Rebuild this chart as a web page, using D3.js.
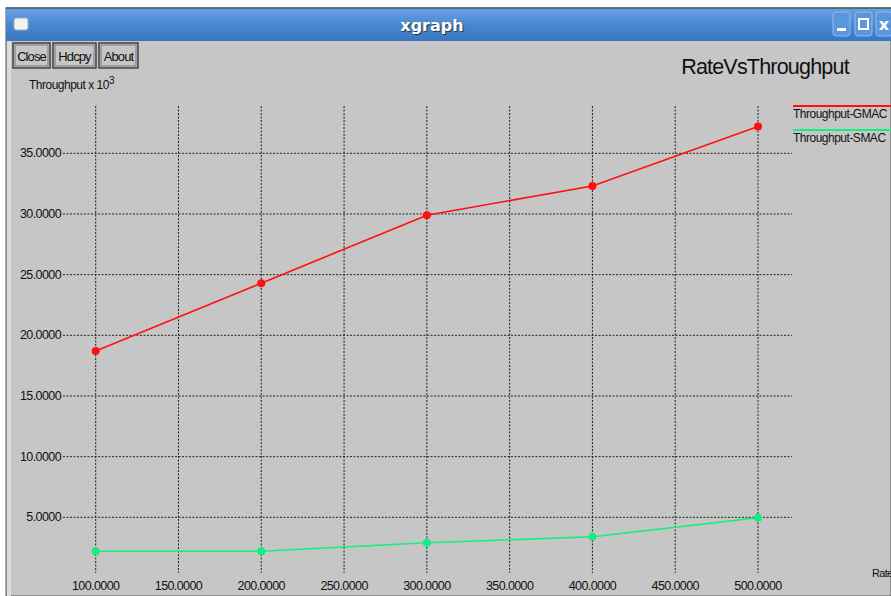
<!DOCTYPE html>
<html>
<head>
<meta charset="utf-8">
<script src="https://cdn.jsdelivr.net/npm/d3@7"></script>
<style>
  body { margin: 0; background: #fff; }
  svg { display: block; font-family: "Liberation Sans", Arial, sans-serif; }
</style>
</head>
<body>
<svg id="chart" width="891" height="596"></svg>
<script>
// Data
const rates = [100, 200, 300, 400, 500];
const gmac = [18.7, 24.3, 29.9, 32.3, 37.2];
const smac = [2.2, 2.2, 2.9, 3.4, 4.96];
const xTicks = [100, 150, 200, 250, 300, 350, 400, 450, 500];
const yTicks = [5, 10, 15, 20, 25, 30, 35];
const seriesNames = ["Throughput-GMAC", "Throughput-SMAC"];
const seriesColors = ["#ff1010", "#10f080"];

const svg = d3.select("#chart");

// window frame
const frame = { left: 6, top: 8, titleH: 33 };
svg.append("rect")
  .attr("x", frame.left).attr("y", frame.top)
  .attr("width", 891 - frame.left).attr("height", 596 - frame.top)
  .attr("fill", "#c6c6c6").attr("stroke", "#555").attr("stroke-width", 1);
svg.append("rect")
  .attr("x", frame.left + 1).attr("y", frame.top + frame.titleH)
  .attr("width", 4).attr("height", 596 - frame.top - frame.titleH)
  .attr("fill", "#dcdcdc");

// title bar gradient
const defs = svg.append("defs");
const grad = defs.append("linearGradient").attr("id", "tb")
  .attr("x1", 0).attr("y1", 0).attr("x2", 0).attr("y2", 1);
grad.append("stop").attr("offset", "0%").attr("stop-color", "#6aa2e0");
grad.append("stop").attr("offset", "50%").attr("stop-color", "#4a88d2");
grad.append("stop").attr("offset", "100%").attr("stop-color", "#3a76c0");
svg.append("rect")
  .attr("x", frame.left).attr("y", frame.top)
  .attr("width", 891 - frame.left).attr("height", frame.titleH)
  .attr("fill", "url(#tb)");
svg.append("line")
  .attr("x1", frame.left).attr("x2", 891)
  .attr("y1", frame.top).attr("y2", frame.top)
  .attr("stroke", "#333");

// window icon
svg.append("rect")
  .attr("x", 14).attr("y", 18).attr("width", 14).attr("height", 12)
  .attr("rx", 2).attr("fill", "#f2f2f2").attr("stroke", "#9ab").attr("stroke-width", 1);

svg.append("text")
  .attr("x", 432).attr("y", 31)
  .attr("text-anchor", "middle")
  .attr("fill", "#fff").attr("font-weight", "bold").attr("font-size", 16)
  .attr("font-family", "DejaVu Sans, sans-serif")
  .style("text-shadow", "1px 1px 1px #234")
  .text("xgraph");

// minimize / maximize / close
const wb = [833, 855, 876];
wb.forEach(x => {
  svg.append("rect")
    .attr("x", x).attr("y", 12).attr("width", 17).attr("height", 24)
    .attr("rx", 3).attr("fill", "#5a96dc").attr("stroke", "#8fbdf0");
});
svg.append("rect").attr("x", 837).attr("y", 28).attr("width", 9).attr("height", 3).attr("fill", "#fff");
svg.append("rect").attr("x", 859).attr("y", 19).attr("width", 9).attr("height", 10)
  .attr("fill", "none").attr("stroke", "#fff").attr("stroke-width", 2);
svg.append("text").attr("x", 884).attr("y", 30).attr("text-anchor", "middle")
  .attr("fill", "#fff").attr("font-weight", "bold").attr("font-size", 16)
  .attr("font-family", "DejaVu Sans, sans-serif").text("x");

// xgraph buttons
const buttons = [
  { label: "Close", x: 13, w: 37 },
  { label: "Hdcpy", x: 53, w: 43 },
  { label: "About", x: 99, w: 39 }
];
buttons.forEach(b => {
  svg.append("rect")
    .attr("x", b.x).attr("y", 43).attr("width", b.w).attr("height", 25)
    .attr("fill", "#c6c6c6").attr("stroke", "#222").attr("stroke-width", 1.2);
  svg.append("rect")
    .attr("x", b.x + 2).attr("y", 45).attr("width", b.w - 4).attr("height", 21)
    .attr("fill", "none").attr("stroke", "#666").attr("stroke-width", 0.8);
  svg.append("text")
    .attr("x", b.x + b.w / 2).attr("y", 60.5)
    .attr("text-anchor", "middle").attr("font-size", 13).attr("fill", "#111")
    .attr("letter-spacing", -0.9)
    .text(b.label);
});

// plot area and scales
const plot = { left: 63, right: 792, top: 106, bottom: 573 };
const x = d3.scaleLinear().domain([100, 500]).range([95.7, 758]);
const y = d3.scaleLinear().domain([0, 35]).range([578, 153.3]);

const grid = svg.append("g")
  .attr("stroke", "#222").attr("stroke-width", 1).attr("stroke-dasharray", "2,1.5");
grid.selectAll(".hg").data(yTicks).enter().append("line")
  .attr("x1", plot.left).attr("x2", plot.right)
  .attr("y1", d => y(d)).attr("y2", d => y(d));
grid.selectAll(".vg").data(xTicks).enter().append("line")
  .attr("x1", d => x(d)).attr("x2", d => x(d))
  .attr("y1", plot.top).attr("y2", plot.bottom);

// tick labels
svg.append("g").selectAll("text").data(yTicks).enter().append("text")
  .attr("x", plot.left - 2).attr("y", d => y(d) + 4)
  .attr("text-anchor", "end").attr("font-size", 12.5).attr("fill", "#111")
  .attr("letter-spacing", -0.6)
  .text(d => d3.format(".4f")(d));
svg.append("g").selectAll("text").data(xTicks).enter().append("text")
  .attr("x", d => x(d)).attr("y", 590)
  .attr("text-anchor", "middle").attr("font-size", 12.5).attr("fill", "#111")
  .attr("letter-spacing", -0.6)
  .text(d => d3.format(".4f")(d));

// axis titles
const yt = svg.append("text").attr("x", 29).attr("y", 89)
  .attr("font-size", 12).attr("fill", "#111").attr("letter-spacing", -0.5);
yt.append("tspan").text("Throughput x 10");
yt.append("tspan").attr("dy", -5).attr("font-size", 10).text("3");
svg.append("text").attr("x", 872).attr("y", 577)
  .attr("font-size", 11).attr("fill", "#111").attr("letter-spacing", -0.7)
  .text("Rate");

svg.append("text").attr("x", 765).attr("y", 74)
  .attr("text-anchor", "middle").attr("font-size", 21.5).attr("fill", "#111")
  .attr("letter-spacing", -0.8)
  .text("RateVsThroughput");

// series
const seriesData = [gmac, smac];
const line = d3.line().x((d, i) => x(rates[i])).y(d => y(d));
seriesData.forEach((vals, k) => {
  svg.append("path").datum(vals)
    .attr("d", line).attr("fill", "none")
    .attr("stroke", seriesColors[k]).attr("stroke-width", 1.6);
  svg.append("g").selectAll("circle").data(vals).enter().append("circle")
    .attr("cx", (d, i) => x(rates[i])).attr("cy", d => y(d))
    .attr("r", 4).attr("fill", seriesColors[k]);
});

// legend
seriesNames.forEach((name, k) => {
  const ly = 106 + k * 24;
  svg.append("line").attr("x1", 793).attr("x2", 891)
    .attr("y1", ly).attr("y2", ly)
    .attr("stroke", seriesColors[k]).attr("stroke-width", 2);
  svg.append("text").attr("x", 793).attr("y", ly + 12)
    .attr("font-size", 12).attr("fill", "#111").attr("letter-spacing", -0.5)
    .text(name);
});
</script>
</body>
</html>
